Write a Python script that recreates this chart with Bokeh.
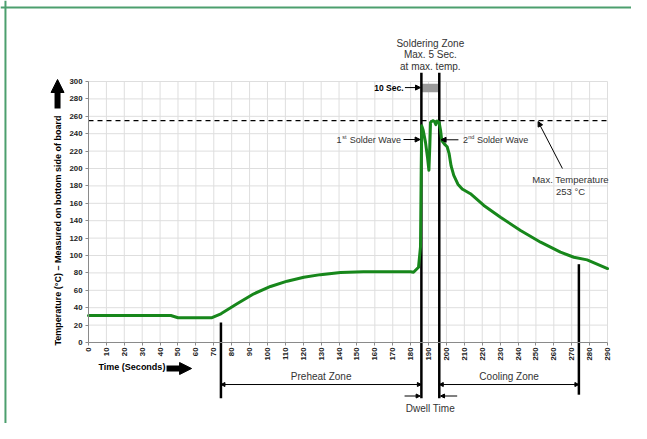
import math
from bokeh.plotting import figure
from bokeh.models import Arrow, NormalHead, Label, Span, FixedTicker
from bokeh.embed import file_html
from bokeh.resources import INLINE

# ---- data ----
time_s = [0, 46, 50, 69, 74, 83, 92.4, 101.7, 111, 120.3, 129.6, 140.8, 153.6, 180,
          181.6, 184.4, 185.5, 185.9, 186.2, 187.0, 188.3, 189.4, 190.2, 190.7, 191.1,
          192.4, 193.3, 194.1, 194.8, 195.9, 196.7, 197.4, 198.9, 200.4, 201.5, 202.6,
          204.1, 206.4, 208.8, 213.4, 220.9, 230.2, 241.4, 252.6, 263.7, 271.2, 278.6, 290]
temp_c = [31, 31, 28.5, 28.5, 33, 44.5, 56, 64.4, 70.5, 75, 78, 80.5, 81.2, 81.4,
          80.8, 86.5, 110, 200, 249, 244, 230, 213, 198, 225, 253,
          255, 254, 250.5, 254.5, 253, 244, 232, 228, 225, 217, 203,
          192, 182, 176.5, 171, 157.5, 144, 128.7, 115.3, 103.8, 98, 95, 85]
x_ticks = list(range(0, 291, 10))
y_ticks = list(range(0, 301, 20))
max_temp_line = 255
solder_start, solder_end = 186, 196
preheat_start = 74
cooling_end = 274

FONT = "Liberation Sans"
GREEN = "#17871b"
ANN = "#333333"

p = figure(width=631, height=423, x_range=(-49.17, 303.4), y_range=(-93.1, 393.1),
           output_backend="svg", toolbar_location=None, title=None, min_border=0)
p.outline_line_color = None
p.background_fill_color = "white"
p.border_fill_color = "white"
p.grid.visible = False

# axes at the data origin
p.xaxis.fixed_location = 0
p.yaxis.fixed_location = 0
p.xaxis.bounds = (0, 290)
p.yaxis.bounds = (0, 300)
p.xaxis.ticker = FixedTicker(ticks=x_ticks)
p.yaxis.ticker = FixedTicker(ticks=y_ticks)
for ax in (p.xaxis, p.yaxis):
    ax.axis_line_color = "#8a8a8a"
    ax.major_tick_line_color = "#8a8a8a"
    ax.major_tick_out = 3
    ax.major_tick_in = 0
    ax.minor_tick_out = 0
    ax.minor_tick_in = 0
    ax.major_label_text_font = FONT
    ax.major_label_text_font_style = "bold"
    ax.major_label_text_font_size = "7.8px"
    ax.major_label_text_color = "#222222"
p.xaxis.major_label_orientation = math.pi / 2
p.xaxis.major_label_standoff = 2
p.yaxis.major_label_standoff = 3

# grid
gx = x_ticks[1:]
p.segment(x0=gx, y0=[0] * len(gx), x1=gx, y1=[300] * len(gx), line_color="#dedede", line_width=1)
gy = y_ticks[1:]
p.segment(x0=[0] * len(gy), y0=gy, x1=[290] * len(gy), y1=gy, line_color="#dedede", line_width=1)

# max temperature dashed line
p.line([0, 290], [max_temp_line, max_temp_line], line_color="black", line_width=1.2, line_dash="5 4")

# 10 sec gray bar
p.quad(left=[solder_start], right=[solder_end], bottom=[287.5], top=[297.5],
       fill_color="#9a9a9a", line_color=None)

# zone boundary lines
p.segment(x0=[solder_start, solder_end, preheat_start, cooling_end],
          y0=[310, 310, 23, 90],
          x1=[solder_start, solder_end, preheat_start, cooling_end],
          y1=[-64, -64, -64, -60], line_color="black", line_width=2.5)

# curve
p.line(time_s, temp_c, line_color=GREEN, line_width=3, line_join="round", line_cap="round")


def label(x, y, text, size="9.5px", align="center", bold=False, color=ANN, angle=0, baseline="middle"):
    p.add_layout(Label(x=x, y=y, text=text, text_font=FONT, text_font_size=size,
                       text_align=align, text_baseline=baseline, text_color=color,
                       text_font_style="bold" if bold else "normal", angle=angle))


def arrow(x0, y0, x1, y1, size=5, width=1, both=False):
    p.add_layout(Arrow(x_start=x0, y_start=y0, x_end=x1, y_end=y1, line_width=width,
                       line_color="black",
                       end=NormalHead(size=size, fill_color="black", line_color="black"),
                       start=NormalHead(size=size, fill_color="black", line_color="black") if both else None))


# soldering zone title
mid = (solder_start + solder_end) / 2
label(mid, 343.7, "Soldering Zone", size="10px")
label(mid, 331, "Max. 5 Sec.", size="10px")
label(mid, 317.8, "at max. temp.", size="10px")

# 10 Sec.
label(176, 293, "10 Sec.", size="8.5px", align="right", bold=True, color="black")
arrow(176.8, 293, solder_start - 0.5, 293)

# 1st solder wave
label(174.6, 233.3, "Solder Wave", size="9px", align="right")
label(141.8, 236.5, "st", size="5.5px", align="left")
label(141.3, 233.3, "1", size="9px", align="right")
arrow(176, 233.3, solder_start - 0.7, 233.3)

# 2nd solder wave
arrow(206.7, 233, solder_end + 1, 233)
label(209.3, 233, "2", size="9px", align="left")
label(212.2, 236.2, "nd", size="5.5px", align="left")
label(217.1, 233, "Solder Wave", size="9px", align="left")

# max temperature
label(269.3, 187.4, "Max. Temperature")
label(269.3, 174.1, "253 °C")
arrow(264.8, 200, 251.2, max_temp_line - 1, size=5)

# dimension arrows
arrow(preheat_start, -48.3, solder_start, -48.3, size=4, both=True)
label((preheat_start + solder_start) / 2, -39, "Preheat Zone", size="10px")
arrow(solder_end, -48.3, cooling_end, -48.3, size=4, both=True)
label((solder_end + cooling_end) / 2, -39, "Cooling Zone", size="10px")
arrow(176.6, -61.5, solder_start - 0.7, -61.5, size=4)
arrow(206, -61.5, solder_end + 0.7, -61.5, size=4)
label(mid, -75.3, "Dwell Time", size="10px")

# axis titles with bold arrows
label(5.6, -28.7, "Time (Seconds)", size="9px", align="left", bold=True, color="black")
p.add_layout(Arrow(x_start=43.6, y_start=-29.9, x_end=57.6, y_end=-29.9, line_width=6,
                   line_color="black",
                   end=NormalHead(size=12, fill_color="black", line_color="black")))
label(-17.3, 128.7, "Temperature (°C) – Measured on bottom side of board", size="9px",
      bold=True, color="black", angle=math.pi / 2)
p.add_layout(Arrow(x_start=-17.3, y_start=269, x_end=-17.3, y_end=302.3, line_width=6,
                   line_color="black",
                   end=NormalHead(size=13, fill_color="black", line_color="black")))

# green frame of the original figure (top and left edges)
p.add_layout(Span(location=-46.4, dimension="height", line_color="#4c9f6e", line_width=2))
p.add_layout(Span(location=385.1, dimension="width", line_color="#4c9f6e", line_width=2))

open("out.html", "w").write(file_html(p, INLINE))
